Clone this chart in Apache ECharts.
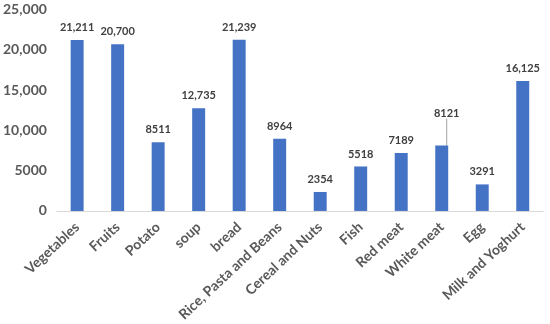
<!DOCTYPE html>
<html><head><meta charset="utf-8">
<script src="https://cdn.jsdelivr.net/npm/echarts@6/dist/echarts.min.js"></script>
<style>html,body{margin:0;padding:0;background:#fff}#c{width:550px;height:324px}</style>
</head><body><div id="c"></div>
<script>
const categories = ["Vegetables","Fruits","Potato","soup","bread","Rice, Pasta and Beans","Cereal and Nuts","Fish","Red meat","White meat","Egg","Milk and Yoghurt"];
const values = [21211,20700,8511,12735,21239,8964,2354,5518,7189,8121,3291,16125];
const yTicks = {min:0,max:25000,interval:5000};
const movedLabelIndex = 9;

const chart = echarts.init(document.getElementById('c'));
const fmt = v => v >= 10000 ? v.toLocaleString('en-US') : String(v);
const seriesData = values.map((v,i) => i===movedLabelIndex
  ? {value:v,labelLine:{show:true,lineStyle:{color:'#a6a6a6',width:1}}}
  : {value:v,labelLine:{show:false}});
chart.setOption({
  animation:false,
  grid:{left:55,right:7,top:9.5,bottom:112,containLabel:false},
  xAxis:{type:'category',data:categories,
    axisLine:{lineStyle:{color:'#d9d9d9',width:1}},axisTick:{show:false},
    axisLabel:{rotate:43,interval:0,margin:14,color:'#595959',fontFamily:'Lato',fontWeight:'bold',fontSize:14}},
  yAxis:{type:'value',min:yTicks.min,max:yTicks.max,interval:yTicks.interval,
    splitLine:{show:false},axisLine:{show:false},axisTick:{show:false},
    axisLabel:{formatter:fmt,color:'#595959',fontFamily:'Lato',fontWeight:'bold',fontSize:14,margin:10}},
  series:[{type:'bar',data:seriesData,barWidth:'32%',itemStyle:{color:'#4472C4'},
    label:{show:true,position:'top',distance:7,formatter:p=>fmt(p.value),color:'#404040',fontFamily:'Lato',fontWeight:'bold',fontSize:11},
    labelLayout:function(p){ if(p.dataIndex===movedLabelIndex){return {dy:-20,dx:5};} return {}; }
  }]
});
</script></body></html>
